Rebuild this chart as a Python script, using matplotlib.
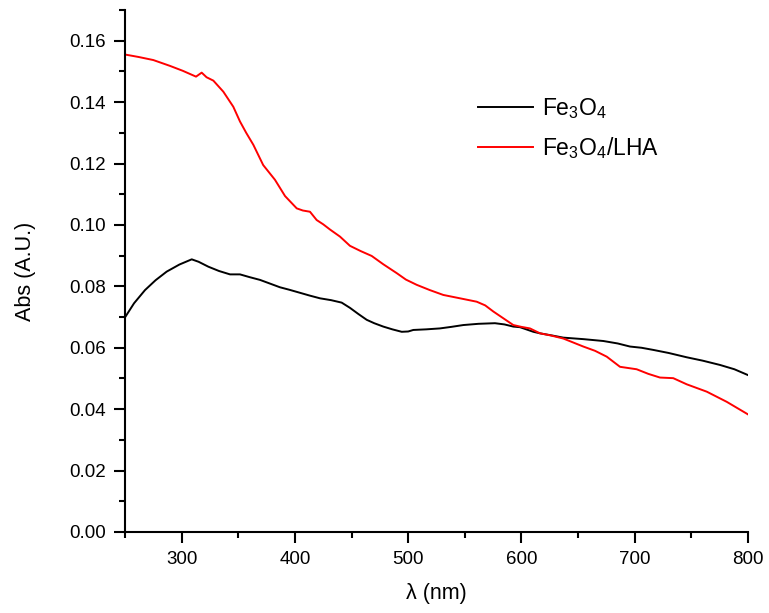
import matplotlib
matplotlib.use("Agg")
import matplotlib.pyplot as plt
from matplotlib.ticker import MultipleLocator, FormatStrFormatter

plt.rcParams['font.family'] = ['Liberation Sans', 'DejaVu Sans']
plt.rcParams['mathtext.fontset'] = 'custom'
plt.rcParams['mathtext.rm'] = 'Liberation Sans'
plt.rcParams['mathtext.default'] = 'regular'

# Fe3O4 (black)
wl_fe = [250, 258, 267.7, 277, 286.8, 298, 308.9, 315, 323.6, 333, 342.7, 351.5, 360, 369.2,
         378, 386.8, 395, 404.5, 413, 422.2, 432, 441.3, 448.6, 456, 463.4, 470, 478, 486,
         494.3, 500, 504.5, 516, 528, 538, 548.7, 562, 576.6, 585, 592.8, 598.7, 610.5, 616.4,
         627, 637, 655, 672.3, 685, 695.8, 706, 716.4, 730, 745.9, 760, 775.3, 788, 800]
abs_fe = [0.0699, 0.0745, 0.0788, 0.0820, 0.0848, 0.0871, 0.0888, 0.0880, 0.0864, 0.0850,
          0.0839, 0.0839, 0.0830, 0.0821, 0.0809, 0.0797, 0.0789, 0.0779, 0.0770, 0.0761,
          0.0755, 0.0747, 0.0730, 0.0710, 0.0691, 0.0680, 0.0669, 0.0660, 0.0652, 0.0653,
          0.0658, 0.0660, 0.0663, 0.0668, 0.0674, 0.0678, 0.0680, 0.0676, 0.0669, 0.0667,
          0.0652, 0.0647, 0.0640, 0.0633, 0.0628, 0.0622, 0.0614, 0.0604, 0.0600, 0.0593,
          0.0583, 0.0569, 0.0558, 0.0544, 0.0530, 0.0511]

# Fe3O4/LHA (red)
wl_lha = [250, 262, 275, 289.7, 301, 312.7, 317.7, 322, 328, 336.8, 345.6, 351.5, 357, 363.3,
          372, 382.4, 391.3, 401.6, 407, 413.3, 419.2, 425, 431, 439.8, 448.6, 458, 467.8,
          478, 489.9, 498, 507.5, 519, 531, 545.8, 560.5, 568, 575.2, 584, 592.8, 600,
          607.5, 616.4, 626, 637, 654.6, 665, 675.3, 687, 701.7, 712, 722.3, 734, 745.9,
          763.6, 781.2, 800]
abs_lha = [0.1555, 0.1547, 0.1537, 0.1518, 0.1502, 0.1483, 0.1496, 0.1481, 0.1470, 0.1434,
           0.1385, 0.1337, 0.1300, 0.1261, 0.1195, 0.1147, 0.1094, 0.1054, 0.1047, 0.1043,
           0.1016, 0.1002, 0.0985, 0.0962, 0.0932, 0.0915, 0.0899, 0.0872, 0.0843, 0.0822,
           0.0805, 0.0788, 0.0772, 0.0761, 0.0750, 0.0738, 0.0718, 0.0696, 0.0674, 0.0668,
           0.0663, 0.0647, 0.0640, 0.0630, 0.0604, 0.0590, 0.0571, 0.0538, 0.0530, 0.0515,
           0.0503, 0.0501, 0.0481, 0.0457, 0.0424, 0.0383]

fig = plt.figure(figsize=(7.69, 6.13), dpi=100)
ax = fig.add_axes([125/769, 81/613, 623/769, 522/613])

ax.plot(wl_fe, abs_fe, color='black', lw=1.4, label='Fe$_3$O$_4$')
ax.plot(wl_lha, abs_lha, color='#ff0000', lw=1.4, label='Fe$_3$O$_4$/LHA')

ax.set_xlim(250, 800)
ax.set_ylim(0, 0.17)
ax.xaxis.set_major_locator(MultipleLocator(100))
ax.xaxis.set_minor_locator(MultipleLocator(50))
ax.yaxis.set_major_locator(MultipleLocator(0.02))
ax.yaxis.set_minor_locator(MultipleLocator(0.01))
ax.yaxis.set_major_formatter(FormatStrFormatter('%.2f'))

for s in ['top', 'right']:
    ax.spines[s].set_visible(False)
for s in ['left', 'bottom']:
    ax.spines[s].set_linewidth(1.5)
ax.tick_params(which='major', direction='out', length=8, width=1.5, labelsize=13.5, pad=5.5)
ax.tick_params(which='minor', direction='out', length=4.5, width=1.5)

ax.set_xlabel('λ (nm)', fontsize=15.5, labelpad=11)
ax.set_ylabel('Abs (A.U.)', fontsize=15.5, labelpad=24)

ax.legend(loc='upper left', bbox_to_anchor=(0.5666, 0.835), frameon=False, fontsize=16.5,
          handlelength=2.4, handletextpad=0.4, labelspacing=0.6,
          borderaxespad=0, borderpad=0)

fig.savefig('out.png', dpi=100)
